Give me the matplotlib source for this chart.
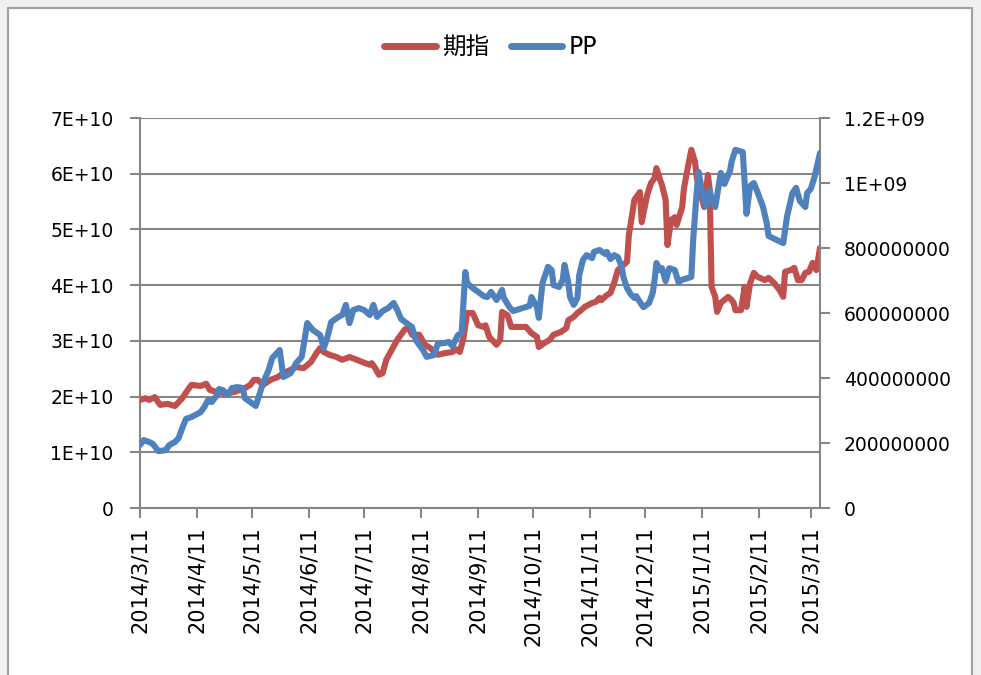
import matplotlib
matplotlib.use("Agg")
import matplotlib.pyplot as plt
import matplotlib.dates as mdates
from matplotlib.patches import Rectangle
from matplotlib.lines import Line2D
from matplotlib.ticker import FixedLocator
import pandas as pd
import numpy as np

# ---------------- data ----------------
qz_dates = ["2014-03-11","2014-03-14","2014-03-16","2014-03-19","2014-03-22","2014-03-26","2014-03-30",
            "2014-04-03","2014-04-06","2014-04-08","2014-04-13","2014-04-16","2014-04-18","2014-04-22",
            "2014-04-26","2014-05-01","2014-05-07","2014-05-10","2014-05-12","2014-05-14","2014-05-17",
            "2014-05-21","2014-05-25","2014-05-28","2014-06-01","2014-06-04","2014-06-08","2014-06-12",
            "2014-06-15","2014-06-17","2014-06-19","2014-06-22","2014-06-26","2014-06-29","2014-07-03",
            "2014-07-07","2014-07-10","2014-07-14","2014-07-15","2014-07-17","2014-07-19","2014-07-21",
            "2014-07-23","2014-07-26","2014-07-29","2014-08-02","2014-08-04","2014-08-06","2014-08-10",
            "2014-08-13","2014-08-16","2014-08-20","2014-08-24","2014-08-28","2014-08-30","2014-09-01",
            "2014-09-03","2014-09-05","2014-09-08","2014-09-11","2014-09-14","2014-09-15","2014-09-17",
            "2014-09-21","2014-09-23","2014-09-24","2014-09-27","2014-09-29","2014-10-03","2014-10-07",
            "2014-10-10","2014-10-13","2014-10-14","2014-10-17","2014-10-20","2014-10-22","2014-10-26",
            "2014-10-29","2014-10-30","2014-11-02","2014-11-04","2014-11-06","2014-11-08","2014-11-12",
            "2014-11-14","2014-11-16","2014-11-17","2014-11-20","2014-11-22","2014-11-24","2014-11-26",
            "2014-11-28","2014-12-01","2014-12-02","2014-12-04","2014-12-05","2014-12-08","2014-12-09",
            "2014-12-10","2014-12-12","2014-12-14","2014-12-16","2014-12-17","2014-12-19","2014-12-20",
            "2014-12-22","2014-12-23","2014-12-25","2014-12-27","2014-12-28","2014-12-31","2015-01-01",
            "2015-01-03","2015-01-05","2015-01-07","2015-01-08","2015-01-10","2015-01-12","2015-01-14",
            "2015-01-15","2015-01-16","2015-01-18","2015-01-19","2015-01-21","2015-01-25","2015-01-27",
            "2015-01-28","2015-01-29","2015-02-01","2015-02-03","2015-02-04","2015-02-06","2015-02-08",
            "2015-02-10","2015-02-14","2015-02-16","2015-02-19","2015-02-22","2015-02-24","2015-02-25",
            "2015-02-28","2015-03-02","2015-03-04","2015-03-06","2015-03-08","2015-03-10","2015-03-12",
            "2015-03-14","2015-03-16"]
qz_values_e10 = [1.94,1.97,1.94,1.99,1.85,1.87,1.83,
                 1.97,2.12,2.21,2.19,2.23,2.12,2.08,
                 2.06,2.08,2.15,2.21,2.30,2.30,2.21,
                 2.30,2.35,2.42,2.48,2.53,2.51,2.62,
                 2.78,2.87,2.80,2.75,2.71,2.66,2.71,
                 2.66,2.62,2.57,2.60,2.51,2.39,2.42,
                 2.66,2.84,3.02,3.20,3.25,3.11,3.11,
                 2.93,2.87,2.75,2.78,2.80,2.85,2.80,
                 3.05,3.50,3.50,3.28,3.25,3.28,3.07,
                 2.93,3.02,3.52,3.46,3.25,3.25,3.25,
                 3.14,3.07,2.89,2.96,3.02,3.11,3.16,
                 3.23,3.37,3.43,3.50,3.55,3.61,3.68,
                 3.70,3.77,3.73,3.82,3.86,4.04,4.27,
                 4.33,4.42,4.90,5.31,5.53,5.67,5.13,
                 5.30,5.62,5.83,5.92,6.10,5.89,5.80,
                 5.53,4.72,5.17,5.22,5.08,5.40,5.74,
                 6.10,6.43,6.21,5.92,5.65,5.40,5.98,
                 5.71,3.97,3.79,3.52,3.68,3.79,3.73,
                 3.68,3.55,3.55,3.97,3.61,4.04,4.22,
                 4.15,4.09,4.13,4.04,3.91,3.79,4.24,
                 4.27,4.31,4.09,4.09,4.22,4.24,4.40,
                 4.27,4.67]

pp_dates = ["2014-03-11","2014-03-13","2014-03-16","2014-03-18","2014-03-21","2014-03-25","2014-03-27",
            "2014-03-30","2014-04-01","2014-04-03","2014-04-05","2014-04-08","2014-04-13","2014-04-15",
            "2014-04-17","2014-04-19","2014-04-22","2014-04-23","2014-04-25","2014-04-28","2014-04-30",
            "2014-05-03","2014-05-06","2014-05-07","2014-05-10","2014-05-13","2014-05-14","2014-05-17",
            "2014-05-20","2014-05-22","2014-05-26","2014-05-28","2014-06-01","2014-06-04","2014-06-07",
            "2014-06-10","2014-06-13","2014-06-17","2014-06-19","2014-06-21","2014-06-23","2014-06-27",
            "2014-06-29","2014-07-01","2014-07-03","2014-07-05","2014-07-08","2014-07-11","2014-07-14",
            "2014-07-16","2014-07-18","2014-07-21","2014-07-24","2014-07-27","2014-07-29","2014-07-31",
            "2014-08-03","2014-08-06","2014-08-08","2014-08-12","2014-08-14","2014-08-18","2014-08-20",
            "2014-08-24","2014-08-26","2014-08-28","2014-08-31","2014-09-02","2014-09-04","2014-09-05",
            "2014-09-08","2014-09-11","2014-09-14","2014-09-16","2014-09-18","2014-09-21","2014-09-24",
            "2014-09-25","2014-09-28","2014-09-30","2014-10-05","2014-10-09","2014-10-10","2014-10-13",
            "2014-10-14","2014-10-16","2014-10-19","2014-10-21","2014-10-22","2014-10-25","2014-10-27",
            "2014-10-28","2014-10-30","2014-10-31","2014-11-02","2014-11-04","2014-11-05","2014-11-07",
            "2014-11-09","2014-11-12","2014-11-13","2014-11-16","2014-11-19","2014-11-20","2014-11-22",
            "2014-11-24","2014-11-26","2014-11-28","2014-11-29","2014-12-01","2014-12-03","2014-12-05",
            "2014-12-06","2014-12-09","2014-12-10","2014-12-13","2014-12-15","2014-12-16","2014-12-17",
            "2014-12-19","2014-12-20","2014-12-22","2014-12-24","2014-12-27","2014-12-29","2014-12-31",
            "2015-01-05","2015-01-06","2015-01-08","2015-01-09","2015-01-11","2015-01-13","2015-01-15",
            "2015-01-16","2015-01-18","2015-01-21","2015-01-23","2015-01-26","2015-01-27","2015-01-29",
            "2015-02-02","2015-02-03","2015-02-04","2015-02-06","2015-02-08","2015-02-10","2015-02-13",
            "2015-02-15","2015-02-16","2015-02-24","2015-02-26","2015-03-01","2015-03-03","2015-03-05",
            "2015-03-08","2015-03-09","2015-03-11","2015-03-13","2015-03-16"]
pp_values_e8 = [1.94,2.09,2.03,1.97,1.75,1.78,1.94,
                2.03,2.15,2.46,2.74,2.80,2.95,3.11,
                3.32,3.26,3.48,3.66,3.63,3.48,3.69,
                3.72,3.69,3.38,3.26,3.14,3.32,3.85,
                4.25,4.62,4.86,4.03,4.15,4.46,4.65,
                5.69,5.48,5.32,4.92,5.26,5.72,5.88,
                5.94,6.25,5.69,6.09,6.15,6.09,5.94,
                6.25,5.88,6.06,6.15,6.31,6.09,5.82,
                5.69,5.57,5.17,4.86,4.65,4.71,5.05,
                5.08,5.11,4.98,5.32,5.38,7.26,6.92,
                6.77,6.65,6.52,6.49,6.65,6.40,6.71,
                6.46,6.18,6.06,6.15,6.22,6.49,6.18,
                5.85,6.92,7.42,7.32,6.86,6.80,7.02,
                7.48,6.95,6.49,6.25,6.46,7.17,7.63,
                7.78,7.69,7.88,7.94,7.82,7.88,7.66,
                7.78,7.72,7.45,7.11,6.77,6.58,6.46,
                6.52,6.25,6.18,6.31,6.62,7.02,7.54,
                7.32,7.38,6.98,7.38,7.32,6.95,7.02,
                7.11,8.25,9.78,10.34,9.69,9.29,9.78,
                9.51,9.26,10.31,9.97,10.37,10.68,11.02,
                10.95,10.00,9.05,9.91,10.00,9.72,9.26,
                8.77,8.37,8.15,8.95,9.69,9.85,9.45,
                9.26,9.69,9.82,10.18,10.92]

series_names = ["期指", "PP"]
x_ticks = ["2014-03-11","2014-04-11","2014-05-11","2014-06-11","2014-07-11","2014-08-11",
           "2014-09-11","2014-10-11","2014-11-11","2014-12-11","2015-01-11","2015-02-11","2015-03-11"]
left_ticks = [0, 1e10, 2e10, 3e10, 4e10, 5e10, 6e10, 7e10]
left_labels = ["0", "1E+10", "2E+10", "3E+10", "4E+10", "5E+10", "6E+10", "7E+10"]
right_ticks = [0, 2e8, 4e8, 6e8, 8e8, 1e9, 1.2e9]
right_labels = ["0", "200000000", "400000000", "600000000", "800000000", "1E+09", "1.2E+09"]

# ---------------- styling ----------------
RED = "#C0504D"
BLUE = "#4F81BD"
GRID = "#868686"
W, H = 981, 675

plt.rcParams['font.family'] = ['DejaVu Sans', 'Noto Sans CJK SC']

fig = plt.figure(figsize=(W / 100, H / 100), dpi=100, facecolor="#F0F0F0")
frame = Rectangle((8 / W, -0.02), (972 - 8) / W, 1 - 8 / H + 0.02, transform=fig.transFigure,
                  facecolor="white", edgecolor="#A0A0A0", linewidth=1.5, zorder=-10)
fig.patches.append(frame)

left, right, top, bottom = 140 / W, 820 / W, 118 / H, 508 / H
ax = fig.add_axes([left, 1 - bottom, right - left, bottom - top])
ax.set_facecolor("none")
ax2 = ax.twinx()
ax2.set_facecolor("none")

qd = pd.to_datetime(qz_dates)
pd_ = pd.to_datetime(pp_dates)
qv = np.array(qz_values_e10) * 1e10
pv = np.array(pp_values_e8) * 1e8

ax.plot(qd, qv, color=RED, linewidth=4.4, solid_capstyle="round", solid_joinstyle="round", zorder=3)
ax2.plot(pd_, pv, color=BLUE, linewidth=4.4, solid_capstyle="round", solid_joinstyle="round", zorder=3)

ax.set_ylim(0, 7e10)
ax2.set_ylim(0, 1.2e9)
ax.set_xlim(pd.Timestamp("2014-03-11"), pd.Timestamp("2015-03-16"))

ax.yaxis.set_major_locator(FixedLocator(left_ticks))
ax.set_yticklabels(left_labels)
ax2.yaxis.set_major_locator(FixedLocator(right_ticks))
ax2.set_yticklabels(right_labels)

xt = pd.to_datetime(x_ticks)
ax.set_xticks(mdates.date2num(xt))
ax.set_xticklabels([f"{d.year}/{d.month}/{d.day}" for d in xt], rotation=90, fontsize=15)

ax.grid(axis="y", color=GRID, linewidth=1.5, zorder=0)
ax.set_axisbelow(True)

for a in (ax, ax2):
    for s in a.spines.values():
        s.set_visible(False)
ax.spines["left"].set_visible(True)
ax.spines["bottom"].set_visible(True)
ax2.spines["right"].set_visible(True)
for s in (ax.spines["left"], ax.spines["bottom"], ax2.spines["right"]):
    s.set_color(GRID)
    s.set_linewidth(1.5)

ax.tick_params(axis="y", length=7, width=1.5, color=GRID, pad=12, labelsize=13.5, labelcolor="black")
ax2.tick_params(axis="y", length=7, width=1.5, color=GRID, pad=10, labelsize=13.5, labelcolor="black")
ax.tick_params(axis="x", length=7, width=1.5, color=GRID, pad=6, labelcolor="black")

handles = [Line2D([0], [0], color=RED, linewidth=5, solid_capstyle="round"),
           Line2D([0], [0], color=BLUE, linewidth=5, solid_capstyle="round")]
fig.legend(handles, series_names, loc="center", bbox_to_anchor=(0.5, 1 - 47 / H), ncol=2,
           frameon=False, fontsize=17, handlelength=2.2, handletextpad=0.25, columnspacing=0.9)

fig.savefig("out.png", dpi=100, facecolor=fig.get_facecolor())
